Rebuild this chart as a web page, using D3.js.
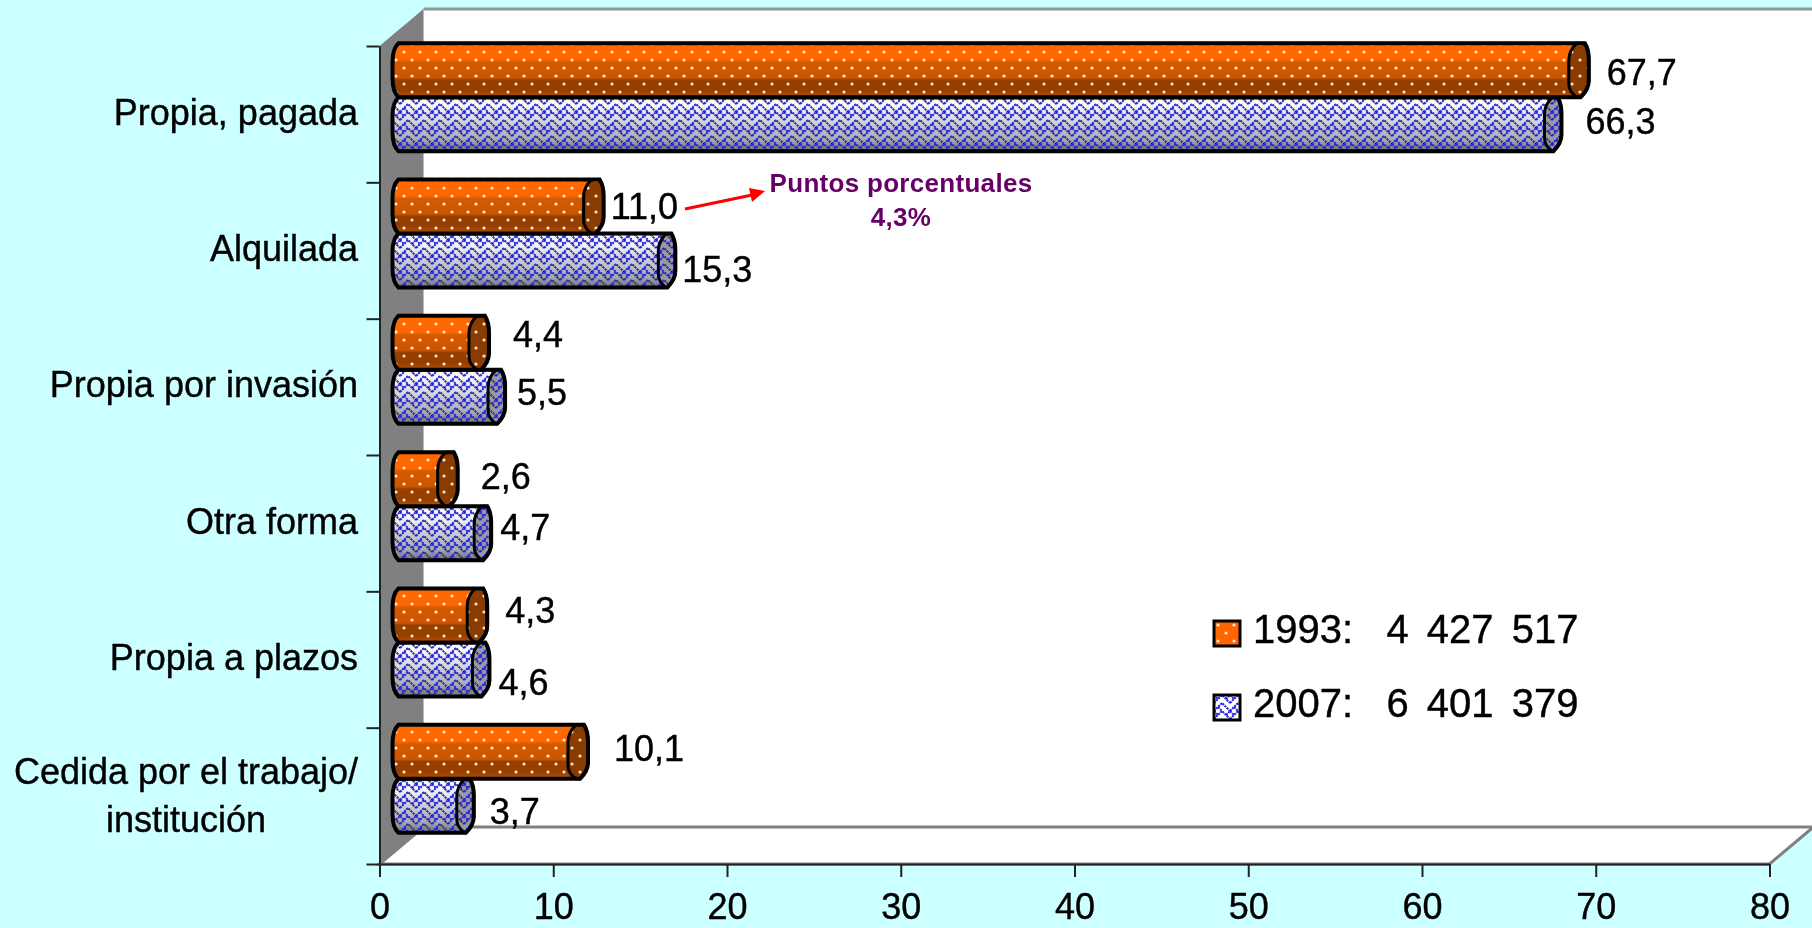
<!DOCTYPE html>
<html>
<head>
<meta charset="utf-8">
<script src="https://cdn.jsdelivr.net/npm/d3@7"></script>
<style>
  html, body { margin: 0; padding: 0; background: #ccffff; overflow: hidden; }
  svg { filter: blur(0.5px); }
  text { font-family: "Liberation Sans", Arial, sans-serif; fill: #000; stroke: #000; stroke-width: 0.4px; white-space: pre; }
</style>
</head>
<body>
<div id="canvas"></div>
<script>
var categories = ["Propia, pagada", "Alquilada", "Propia por invasión", "Otra forma", "Propia a plazos", "Cedida por el trabajo/"];
var values1993 = [67.7, 11.0, 4.4, 2.6, 4.3, 10.1];
var values2007 = [66.3, 15.3, 5.5, 4.7, 4.6, 3.7];
var xTicks = [0, 10, 20, 30, 40, 50, 60, 70, 80];
var legendYears = ["1993:   ", "2007:   "];
var legendTotals = ["4 427 517", "6 401 379"];
var noteLines = ["Puntos porcentuales", "4,3%"];

// the labels were moved by hand in the original, so they carry their own nudges
var nudgeX1993 = [18, 7, 24, 23, 18, 26];
var nudgeY1993 = [2, 0, -8, -3, -5, -3];
var nudgeX2007 = [24, 7, 12, 9, 9, 16];
var nudgeY2007 = [-3, 9, -4, -6, 13, 6];

var width = 1812;
var height = 928;
var depthX = 44;
var depthY = 37;
var barShiftX = 13;
var barShiftY = -17;
var barHeight = 54;

var svg = d3.select("#canvas").append("svg")
  .attr("width", width)
  .attr("height", height)
  .style("display", "block")
  .style("background-color", "#ccffff");

var x = d3.scaleLinear().domain([0, 80]).range([379.5, 1769.5]);
var y = d3.scaleBand().domain(categories).range([46, 864]);
var edges = d3.scaleLinear().domain([0, categories.length]).range([46, 864]);

var defs = svg.append("defs");

function bandGradient(id, stops) {
  var g = defs.append("linearGradient").attr("id", id)
    .attr("x1", 0).attr("y1", 0).attr("x2", 0).attr("y2", 1);
  stops.forEach(function (s) {
    g.append("stop").attr("offset", s[0]).attr("stop-color", s[1]);
  });
}
bandGradient("orangeBody", [[0, "#ff6a00"], [0.3, "#ff6600"], [0.36, "#d45a00"], [0.64, "#cc5500"], [0.68, "#964000"], [0.88, "#964000"], [1, "#b85000"]]);
bandGradient("blueBody", [[0, "#ffffff"], [0.2, "#f4f4f4"], [0.5, "#cfcfcf"], [0.8, "#a8a8a8"], [1, "#707070"]]);

var dots = defs.append("pattern").attr("id", "dots")
  .attr("patternUnits", "userSpaceOnUse").attr("width", 16).attr("height", 16);
dots.selectAll("circle").data([[4, 4], [12, 12]]).join("circle")
  .attr("cx", function (d) { return d[0]; })
  .attr("cy", function (d) { return d[1]; })
  .attr("r", 1.6)
  .attr("fill", "#ffeedd")
  .attr("fill-opacity", 0.95);

var weave = defs.append("pattern").attr("id", "weave")
  .attr("patternUnits", "userSpaceOnUse").attr("width", 16).attr("height", 16);
weave.append("path")
  .attr("d", "M0,8L8,0L16,8M0,16L8,8L16,16M4,12L8,16M12,4L16,0M0,0L4,4")
  .attr("fill", "none")
  .attr("stroke", "#2222dd")
  .attr("stroke-width", 2)
  .attr("stroke-dasharray", "2.2 0.8");

// plot box: back wall, left wall, floor
var x0 = x(0);
var xEnd = x(80);
var yTop = edges(0);
var yBase = edges(categories.length);

svg.append("rect")
  .attr("x", x0 + depthX).attr("y", yTop - depthY)
  .attr("width", width - x0 - depthX).attr("height", yBase - yTop)
  .attr("fill", "#fff");
svg.append("polygon")
  .attr("points", [[x0, yBase], [x0 + depthX, yBase - depthY], [xEnd + depthX, yBase - depthY], [xEnd, yBase]].join(" "))
  .attr("fill", "#fff")
  .attr("stroke", "#808080")
  .attr("stroke-width", 3);
svg.append("polygon")
  .attr("points", [[x0, yTop], [x0 + depthX, yTop - depthY], [x0 + depthX, yBase - depthY], [x0, yBase]].join(" "))
  .attr("fill", "#808080");
svg.append("line")
  .attr("x1", x0 + depthX).attr("y1", yTop - depthY)
  .attr("x2", width).attr("y2", yTop - depthY)
  .attr("stroke", "#8a9a9a")
  .attr("stroke-width", 3);

// axes
var bottomAxis = svg.append("g")
  .attr("transform", "translate(0," + yBase + ")")
  .call(d3.axisBottom(x).tickValues(xTicks).tickSize(13).tickSizeOuter(0).tickPadding(16));
var leftAxis = svg.append("g")
  .attr("transform", "translate(" + x0 + ",0)")
  .call(d3.axisLeft(edges).ticks(categories.length).tickSize(13).tickSizeOuter(0).tickFormat(""));
svg.selectAll(".domain, .tick line").attr("stroke", "#222").attr("stroke-width", 2);
bottomAxis.selectAll("text")
  .style("font-family", '"Liberation Sans", Arial, sans-serif')
  .style("font-size", "36px")
  .attr("fill", "#000");

// category labels
svg.selectAll(".catLabel")
  .data(categories.slice(0, 5))
  .join("text")
  .attr("class", "catLabel")
  .attr("x", 358)
  .attr("y", function (d) { return y(d) + y.bandwidth() / 2 - 2; })
  .attr("dy", "0.35em")
  .attr("text-anchor", "end")
  .style("font-size", "36px")
  .text(function (d) { return d; });

svg.selectAll(".catLabelLast")
  .data(["Cedida por el trabajo/", "institución"])
  .join("text")
  .attr("class", "catLabelLast")
  .attr("x", 186)
  .attr("y", function (d, i) { return y(categories[5]) + y.bandwidth() / 2 - 24 + i * 48; })
  .attr("dy", "0.35em")
  .attr("text-anchor", "middle")
  .style("font-size", "36px")
  .text(function (d) { return d; });

// bars are cylinders lying down, 2007 under 1993
function barOutline(left, right, top, h) {
  var b = top + h;
  return "M" + (left + 6) + "," + top +
    "L" + (right - 4) + "," + top +
    "Q" + right + "," + (top + h * 0.12) + " " + right + "," + (top + h * 0.3) +
    "L" + right + "," + (top + h * 0.7) +
    "Q" + right + "," + (top + h * 0.85) + " " + (right - 8) + "," + b +
    "L" + (left + 6) + "," + b +
    "Q" + left + "," + (top + h * 0.9) + " " + left + "," + (top + h * 0.65) +
    "L" + left + "," + (top + h * 0.35) +
    "Q" + left + "," + (top + h * 0.1) + " " + (left + 6) + "," + top + "Z";
}
function capOutline(edge, right, top, h) {
  var b = top + h;
  return "M" + (right - 4) + "," + top +
    "L" + (edge + 8) + "," + top +
    "Q" + edge + "," + (top + h * 0.14) + " " + edge + "," + (top + h * 0.32) +
    "L" + edge + "," + (top + h * 0.75) +
    "Q" + edge + "," + (top + h * 0.9) + " " + (edge + 8) + "," + b +
    "L" + (right - 8) + "," + b +
    "Q" + right + "," + (top + h * 0.85) + " " + right + "," + (top + h * 0.7) +
    "L" + right + "," + (top + h * 0.3) +
    "Q" + right + "," + (top + h * 0.12) + " " + (right - 4) + "," + top + "Z";
}

function drawBars(name, values, rowOffset, capWidth, bodyFill, capFill, texture) {
  var g = svg.append("g").attr("class", name);
  function barTop(i) {
    return y(categories[i]) + y.bandwidth() / 2 + barShiftY + rowOffset;
  }
  function body(d, i) {
    return barOutline(x(0) + barShiftX, x(d) + barShiftX + capWidth, barTop(i), barHeight);
  }
  function cap(d, i) {
    return capOutline(x(d) + barShiftX, x(d) + barShiftX + capWidth, barTop(i), barHeight);
  }
  g.selectAll(".body").data(values).join("path").attr("class", "body")
    .attr("d", body).attr("fill", bodyFill);
  g.selectAll(".tex").data(values).join("path").attr("class", "tex")
    .attr("d", body).attr("fill", texture);
  g.selectAll(".cap").data(values).join("path").attr("class", "cap")
    .attr("d", cap).attr("fill", capFill);
  g.selectAll(".capTex").data(values).join("path").attr("class", "capTex")
    .attr("d", cap).attr("fill", texture);
  g.selectAll(".edge").data(values).join("path").attr("class", "edge")
    .attr("d", body).attr("fill", "none").attr("stroke", "#000").attr("stroke-width", 4);
  g.selectAll(".capEdge").data(values).join("path").attr("class", "capEdge")
    .attr("d", cap).attr("fill", "none").attr("stroke", "#000").attr("stroke-width", 3);
}
var capWidth2007 = 17;
var capWidth1993 = 20;
drawBars("bars2007", values2007, 0, capWidth2007, "url(#blueBody)", "#9a9a9a", "url(#weave)");
drawBars("bars1993", values1993, -barHeight, capWidth1993, "url(#orangeBody)", "#8a3c00", "url(#dots)");

// value labels
function comma(v) { return v.toFixed(1).replace(".", ","); }
function drawValues(name, values, rowCenter, capWidth, nudgeX, nudgeY) {
  svg.selectAll("." + name)
    .data(values)
    .join("text")
    .attr("class", name)
    .attr("x", function (d, i) { return x(d) + barShiftX + capWidth + nudgeX[i]; })
    .attr("y", function (d, i) {
      return y(categories[i]) + y.bandwidth() / 2 + barShiftY + rowCenter + nudgeY[i];
    })
    .attr("dy", "0.35em")
    .style("font-size", "36px")
    .text(comma);
}
drawValues("val1993", values1993, -barHeight / 2, capWidth1993, nudgeX1993, nudgeY1993);
drawValues("val2007", values2007, barHeight / 2, capWidth2007, nudgeX2007, nudgeY2007);

// note with arrow
svg.append("line")
  .attr("x1", 685).attr("y1", 209).attr("x2", 752).attr("y2", 195)
  .attr("stroke", "#ff0000").attr("stroke-width", 3);
svg.append("polygon")
  .attr("points", "765,191 749,188 752,202")
  .attr("fill", "#ff0000");
svg.selectAll(".note")
  .data(noteLines)
  .join("text")
  .attr("class", "note")
  .attr("x", 901)
  .attr("y", function (d, i) { return 183 + i * 34; })
  .attr("dy", "0.35em")
  .attr("text-anchor", "middle")
  .style("font-size", "26px")
  .style("font-weight", "bold")
  .style("letter-spacing", "0.3px")
  .style("fill", "#660066")
  .style("stroke", "none")
  .text(function (d) { return d; });

// legend
var legendFill = [["#ff6600", "url(#dots)"], ["#ffffff", "url(#weave)"]];
var legend = svg.selectAll(".legendItem")
  .data(legendYears)
  .join("g")
  .attr("class", "legendItem")
  .attr("transform", function (d, i) { return "translate(1214," + (621 + i * 74) + ")"; });
legend.append("rect").attr("width", 26).attr("height", 25)
  .attr("fill", function (d, i) { return legendFill[i][0]; });
legend.append("rect").attr("width", 26).attr("height", 25)
  .attr("fill", function (d, i) { return legendFill[i][1]; })
  .attr("stroke", "#000").attr("stroke-width", 3);
var legendText = legend.append("text")
  .attr("x", 39)
  .attr("y", 8)
  .attr("dy", "0.35em")
  .style("font-size", "40px")
  .text(function (d) { return d; });
legendText.append("tspan")
  .style("word-spacing", "7px")
  .text(function (d, i) { return legendTotals[i]; });
</script>
</body>
</html>
